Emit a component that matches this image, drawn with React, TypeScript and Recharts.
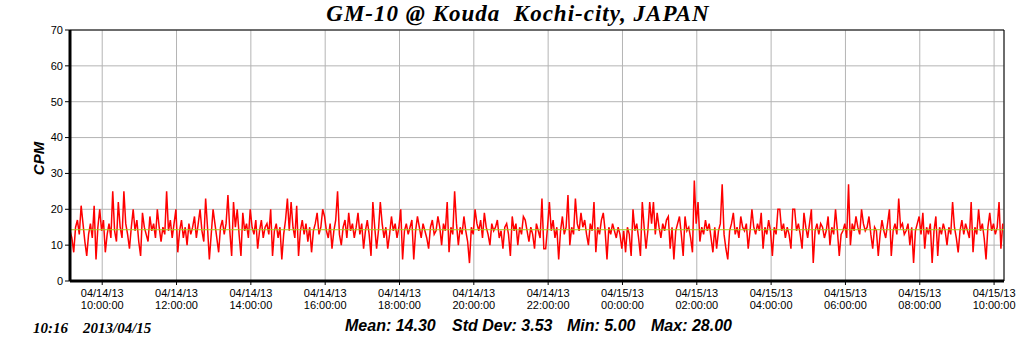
import { CartesianGrid, Line, LineChart, ReferenceLine, XAxis, YAxis } from 'recharts';

// counts per minute, one reading every 3 minutes from 04/14/13 09:08
const startLabel = '04/14/13 09:08';
const stepMinutes = 3;
const cpm = [
  14, 12, 8, 15, 17, 13, 21, 16, 11, 7,
  13, 16, 12, 21, 6, 15, 20, 14, 17, 8,
  13, 16, 12, 25, 14, 11, 22, 15, 12, 25,
  16, 13, 9, 15, 20, 14, 17, 11, 7, 19,
  15, 13, 11, 18, 14, 16, 12, 20, 15, 11,
  15, 13, 25, 14, 17, 12, 16, 20, 8, 14,
  17, 12, 15, 10, 16, 13, 15, 18, 12, 16,
  20, 14, 11, 23, 15, 6, 13, 20, 16, 12,
  8, 15, 17, 13, 16, 24, 14, 7, 22, 15,
  20, 13, 7, 19, 14, 16, 12, 20, 15, 13,
  17, 9, 14, 17, 12, 15, 16, 13, 20, 7,
  14, 16, 12, 15, 6, 13, 17, 23, 14, 22,
  15, 12, 21, 7, 14, 17, 13, 16, 11, 15,
  8, 14, 16, 19, 13, 15, 20, 18, 14, 12,
  16, 9, 14, 17, 25, 13, 10, 15, 17, 12,
  19, 14, 16, 12, 15, 19, 13, 16, 9, 14,
  17, 13, 7, 22, 15, 9, 14, 22, 16, 12,
  15, 9, 13, 18, 14, 16, 12, 15, 20, 6,
  14, 16, 13, 15, 17, 6, 14, 18, 15, 12,
  16, 14, 12, 9, 15, 17, 13, 14, 18, 15,
  10, 16, 14, 22, 8, 15, 13, 25, 16, 10,
  15, 13, 18, 14, 11, 5, 15, 13, 20, 16,
  14, 17, 12, 19, 15, 13, 10, 16, 14, 15,
  17, 12, 14, 9, 15, 16, 13, 7, 18, 14,
  16, 10, 15, 13, 18, 17, 14, 11, 15, 13,
  9, 16, 14, 12, 23, 9, 9, 15, 22, 14,
  17, 12, 15, 6, 14, 18, 13, 15, 24, 10,
  15, 13, 23, 16, 14, 19, 15, 17, 13, 10,
  16, 14, 22, 8, 15, 13, 17, 19, 14, 6,
  15, 13, 16, 14, 12, 15, 13, 9, 14, 8,
  15, 13, 7, 20, 14, 16, 12, 7, 22, 15,
  9, 14, 22, 16, 22, 13, 19, 15, 12, 16,
  14, 17, 18, 9, 15, 6, 14, 16, 18, 13,
  7, 18, 14, 15, 12, 8, 28, 16, 22, 11,
  15, 13, 17, 14, 16, 12, 8, 15, 9, 14,
  16, 27, 13, 9, 6, 14, 16, 19, 13, 15,
  12, 18, 15, 14, 16, 9, 14, 20, 15, 13,
  16, 14, 19, 9, 15, 13, 17, 14, 7, 15,
  13, 20, 20, 14, 16, 12, 15, 13, 9, 20,
  20, 14, 16, 13, 9, 19, 15, 12, 16, 20,
  5, 14, 16, 13, 16, 15, 12, 14, 18, 10,
  15, 13, 20, 14, 7, 13, 14, 16, 12, 27,
  10, 16, 14, 18, 15, 13, 20, 16, 14, 15,
  18, 13, 9, 15, 14, 7, 13, 17, 14, 12,
  16, 20, 7, 14, 16, 13, 23, 15, 16, 13,
  14, 16, 10, 15, 5, 14, 16, 18, 13, 19,
  9, 15, 13, 16, 5, 14, 18, 7, 15, 13,
  16, 14, 10, 15, 13, 22, 15, 12, 8, 14,
  17, 13, 16, 14, 12, 22, 8, 15, 13, 20,
  14, 16, 12, 6, 15, 19, 14, 16, 13, 15,
  22, 9, 16,
];

// minutes after start for each x tick
const tickMinutes = [52, 172, 292, 412, 532, 652, 772, 892, 1012, 1132, 1252, 1372, 1492];
const tickDates = [
  '04/14/13', '04/14/13', '04/14/13', '04/14/13', '04/14/13', '04/14/13', '04/14/13',
  '04/15/13', '04/15/13', '04/15/13', '04/15/13', '04/15/13', '04/15/13',
];
const tickTimes = [
  '10:00:00', '12:00:00', '14:00:00', '16:00:00', '18:00:00', '20:00:00', '22:00:00',
  '00:00:00', '02:00:00', '04:00:00', '06:00:00', '08:00:00', '10:00:00',
];
const yTicks = [0, 10, 20, 30, 40, 50, 60, 70];
const endMinute = 1508;

const stats = [
  { label: 'Mean: 14.30', left: 345 },
  { label: 'Std Dev: 3.53', left: 452 },
  { label: 'Min: 5.00', left: 567 },
  { label: 'Max: 28.00', left: 651 },
];
const meanValue = 14.3;
const title = 'GM-10 @ Kouda\u00a0\u00a0Kochi-city, JAPAN';
const stampTime = '10:16';
const stampDate = '2013/04/15';

const data = cpm.map((v, i) => ({ t: i * stepMinutes, cpm: v }));

const sans = '"Liberation Sans", Arial, sans-serif';
const serif = '"Liberation Serif", "Times New Roman", serif';

function XTick(props: any) {
  const { x, y, index } = props;
  return (
    <g transform={`translate(${x},${y})`}>
      <text textAnchor="middle" fontSize={11} fontFamily={sans} fill="#000">
        <tspan x={0} dy={10}>{tickDates[index]}</tspan>
        <tspan x={0} dy={12}>{tickTimes[index]}</tspan>
      </text>
    </g>
  );
}

export default function App() {
  return (
    <div style={{ position: 'absolute', left: 0, top: 0, width: 1024, height: 351, background: '#fff' }} title={startLabel}>
      <LineChart width={1024} height={351} data={data} margin={{ top: 30, right: 20, bottom: 30, left: 30 }}>
        <CartesianGrid stroke="#b4b4b4" />
        <XAxis
          type="number"
          dataKey="t"
          domain={[0, endMinute]}
          ticks={tickMinutes}
          tick={<XTick />}
          height={40}
          axisLine={{ stroke: '#000', strokeWidth: 3 }}
          tickLine={{ stroke: '#000' }}
          tickSize={4}
          interval={0}
        />
        <YAxis
          domain={[0, 70]}
          ticks={yTicks}
          width={40}
          tick={{ fontSize: 11, fontFamily: sans, fill: '#000' }}
          axisLine={{ stroke: '#000', strokeWidth: 3 }}
          tickLine={{ stroke: '#000' }}
          tickSize={5}
          interval={0}
        />
        <ReferenceLine y={70} stroke="#000" strokeWidth={1} />
        <ReferenceLine x={endMinute} stroke="#000" strokeWidth={1} />
        <Line
          type="linear"
          dataKey="cpm"
          stroke="#ff0000"
          strokeWidth={1.5}
          dot={false}
          isAnimationActive={false}
        />
        <ReferenceLine y={meanValue} stroke="#a8c81e" strokeWidth={1} />
      </LineChart>
      <div style={{ position: 'absolute', left: 0, top: 1, width: 1024, textAlign: 'center', font: `italic bold 23px ${serif}`, letterSpacing: 1, color: '#000' }}>
        <span style={{ position: 'relative', left: 6 }}>{title}</span>
      </div>
      <div style={{ position: 'absolute', left: 24, top: 138, width: 30, height: 40, display: 'flex', alignItems: 'center', justifyContent: 'center' }}>
        <span style={{ transform: 'rotate(-90deg)', font: `italic bold 15px ${sans}`, whiteSpace: 'nowrap' }}>CPM</span>
      </div>
      <div style={{ position: 'absolute', left: 33, top: 320, font: `italic bold 15px ${serif}`, whiteSpace: 'nowrap' }}>{stampTime}</div>
      <div style={{ position: 'absolute', left: 83, top: 320, font: `italic bold 15px ${serif}`, whiteSpace: 'nowrap' }}>{stampDate}</div>
      {stats.map((s) => (
        <div key={s.label} style={{ position: 'absolute', left: s.left, top: 317, font: `italic bold 16px ${sans}`, whiteSpace: 'nowrap' }}>
          {s.label}
        </div>
      ))}
    </div>
  );
}
